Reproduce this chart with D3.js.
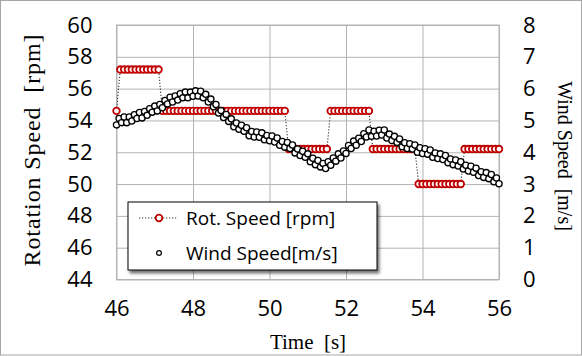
<!DOCTYPE html>
<html>
<head>
<meta charset="utf-8">
<script src="https://cdn.jsdelivr.net/npm/d3@7"></script>
<style>
  html, body { margin: 0; padding: 0; background: #fff; }
  svg { display: block; }
</style>
</head>
<body>
<svg id="chart" width="582" height="356"></svg>
<script>
// time axis start [s]; rotation sampled every 0.1 s, wind 15 times per second
const timeStart = 46;
const rotStep = 0.1;
const windRate = 15;
// rotation speed [rpm] (left axis)
const rotSpeed = [
  54.6,
  57.2, 57.2, 57.2, 57.2, 57.2, 57.2, 57.2, 57.2, 57.2, 57.2, 57.2,
  54.6, 54.6, 54.6, 54.6, 54.6, 54.6, 54.6, 54.6, 54.6, 54.6, 54.6,
  54.6, 54.6, 54.6, 54.6, 54.6, 54.6, 54.6, 54.6, 54.6, 54.6, 54.6,
  54.6, 54.6, 54.6, 54.6, 54.6, 54.6, 54.6, 54.6, 54.6, 54.6, 54.6,
  52.2, 52.2, 52.2, 52.2, 52.2, 52.2, 52.2, 52.2, 52.2, 52.2, 52.2,
  54.6, 54.6, 54.6, 54.6, 54.6, 54.6, 54.6, 54.6, 54.6, 54.6, 54.6,
  52.2, 52.2, 52.2, 52.2, 52.2, 52.2, 52.2, 52.2, 52.2, 52.2, 52.2, 52.2,
  50.0, 50.0, 50.0, 50.0, 50.0, 50.0, 50.0, 50.0, 50.0, 50.0, 50.0, 50.0,
  52.2, 52.2, 52.2, 52.2, 52.2, 52.2, 52.2, 52.2, 52.2, 52.2
];
// wind speed [m/s] (right axis)
const windSpeed = [
  4.86, 5.06, 4.93, 5.11, 4.93, 5.11, 4.98, 5.18, 5.06, 5.25,
  5.08, 5.28, 5.16, 5.37, 5.26, 5.45, 5.30, 5.50, 5.40, 5.63,
  5.52, 5.73, 5.58, 5.77, 5.64, 5.84, 5.71, 5.89, 5.71, 5.89,
  5.76, 5.93, 5.77, 5.92, 5.71, 5.82, 5.58, 5.67, 5.43, 5.50,
  5.23, 5.31, 5.09, 5.19, 4.97, 5.05, 4.80, 4.92, 4.72, 4.85,
  4.66, 4.77, 4.52, 4.65, 4.48, 4.64, 4.47, 4.61, 4.39, 4.53,
  4.36, 4.51, 4.32, 4.45, 4.22, 4.34, 4.16, 4.31, 4.12, 4.23,
  3.98, 4.10, 3.90, 4.03, 3.84, 3.95, 3.70, 3.81, 3.61, 3.74,
  3.54, 3.65, 3.49, 3.70, 3.59, 3.82, 3.72, 3.95, 3.82, 4.04,
  3.96, 4.21, 4.12, 4.35, 4.22, 4.44, 4.34, 4.58, 4.48, 4.70,
  4.50, 4.66, 4.51, 4.69, 4.54, 4.70, 4.45, 4.57, 4.37, 4.50,
  4.31, 4.42, 4.17, 4.30, 4.12, 4.27, 4.10, 4.23, 4.00, 4.14,
  3.96, 4.11, 3.94, 4.07, 3.84, 3.98, 3.80, 3.95, 3.77, 3.90,
  3.67, 3.79, 3.61, 3.76, 3.57, 3.70, 3.47, 3.59, 3.41, 3.56,
  3.37, 3.50, 3.27, 3.39, 3.21, 3.36, 3.17, 3.30, 3.07, 3.19,
  3.01
];
// tick labels
const timeTicks = [46, 48, 50, 52, 54, 56];
const rpmTicks = [44, 46, 48, 50, 52, 54, 56, 58, 60];
const windTicks = [0, 1, 2, 3, 4, 5, 6, 7, 8];
const legendLabels = ["Rot. Speed [rpm]", "Wind Speed[m/s]"];

const svg = d3.select("#chart");
const W = 582, H = 356;
const margin = { top: 25, right: 83, bottom: 76.5, left: 116.5 };
const width = W - margin.left - margin.right;
const height = H - margin.top - margin.bottom;

const sansFont = "'Open Sans', 'Liberation Sans', sans-serif";
const serifFont = "'Liberation Serif', 'DejaVu Serif', serif";

// outer border
svg.append("rect")
  .attr("x", 0.5).attr("y", 0.5)
  .attr("width", W - 1).attr("height", H - 1.5)
  .attr("fill", "#fff").attr("stroke", "#a6a6a6");

const g = svg.append("g").attr("transform", `translate(${margin.left},${margin.top})`);

const x = d3.scaleLinear().domain([46, 56]).range([0, width]);
const yL = d3.scaleLinear().domain([44, 60]).range([height, 0]);
const yR = d3.scaleLinear().domain([0, 8]).range([height, 0]);

const rotRows = rotSpeed.map((r, i) => ({ t: timeStart + i * rotStep, v: r }));
const windRows = windSpeed.map((w, i) => ({ t: timeStart + i / windRate, v: w }));

//
// left axis, with horizontal grid lines
const gl = g.append("g")
  .call(d3.axisLeft(yL).tickValues(rpmTicks).tickSize(-width).tickPadding(24));
gl.select(".domain").remove();
gl.selectAll("line").attr("stroke", "#b3b3b3");
gl.selectAll("text").attr("font-family", sansFont).attr("font-size", 22).attr("fill", "#000");

//
// bottom axis, with vertical grid lines
const gb = g.append("g")
  .attr("transform", `translate(0,${height})`)
  .call(d3.axisBottom(x).tickValues(timeTicks).tickSize(-height).tickPadding(21));
gb.select(".domain").remove();
gb.selectAll("line").attr("stroke", "#b3b3b3");
gb.selectAll("text").attr("font-family", sansFont).attr("font-size", 22).attr("fill", "#000");

//
// right axis, labels only
const gr = g.append("g")
  .attr("transform", `translate(${width},0)`)
  .call(d3.axisRight(yR).tickValues(windTicks).tickSize(0).tickPadding(24));
gr.select(".domain").remove();
gr.selectAll("text").attr("font-family", sansFont).attr("font-size", 22).attr("fill", "#000");

// plot frame
g.append("rect")
  .attr("width", width).attr("height", height)
  .attr("fill", "none").attr("stroke", "#b3b3b3");

//
// rotation speed: dotted connector + hollow red markers
const rotLine = d3.line().x(d => x(d.t)).y(d => yL(d.v));
g.append("path")
  .datum(rotRows)
  .attr("d", rotLine)
  .attr("fill", "none")
  .attr("stroke", "#333")
  .attr("stroke-width", 1.1)
  .attr("stroke-dasharray", "1.2,1.8");

g.append("g").selectAll("circle")
  .data(rotRows)
  .enter()
  .append("circle")
  .attr("cx", d => x(d.t))
  .attr("cy", d => yL(d.v))
  .attr("r", 3.3)
  .attr("fill", "#fff")
  .attr("stroke", "#c00000")
  .attr("stroke-width", 1.8);

//
// wind speed: hollow black markers
g.append("g").selectAll("circle")
  .data(windRows)
  .enter()
  .append("circle")
  .attr("cx", d => x(d.t))
  .attr("cy", d => yR(d.v))
  .attr("r", 3.1)
  .attr("fill", "#fff")
  .attr("stroke", "#000")
  .attr("stroke-width", 1.3);

//
// axis titles
svg.append("text")
  .attr("transform", "translate(40,150) rotate(-90)")
  .attr("text-anchor", "middle")
  .attr("font-family", serifFont).attr("font-size", 24)
  .attr("letter-spacing", 0.9)
  .attr("xml:space", "preserve")
  .text("Rotation Speed  [rpm]");

svg.append("text")
  .attr("transform", "translate(558,156) rotate(90)")
  .attr("text-anchor", "middle")
  .attr("font-family", serifFont).attr("font-size", 20)
  .attr("xml:space", "preserve")
  .text("Wind Speed  [m/s]");

svg.append("text")
  .attr("x", 308).attr("y", 349)
  .attr("text-anchor", "middle")
  .attr("font-family", serifFont).attr("font-size", 21)
  .attr("xml:space", "preserve")
  .text("Time  [s]");

//
// legend
const defs = svg.append("defs");
const sh = defs.append("filter").attr("id", "shadow")
  .attr("x", "-10%").attr("y", "-10%").attr("width", "130%").attr("height", "150%");
sh.append("feDropShadow")
  .attr("dx", 2).attr("dy", 3).attr("stdDeviation", 1.6)
  .attr("flood-color", "#000").attr("flood-opacity", 0.55);

const lg = svg.append("g").attr("transform", "translate(128,202)");
lg.append("rect")
  .attr("width", 249).attr("height", 68)
  .attr("fill", "#fff").attr("stroke", "#000").attr("stroke-width", 1)
  .attr("filter", "url(#shadow)");

lg.append("line")
  .attr("x1", 11).attr("x2", 50).attr("y1", 16).attr("y2", 16)
  .attr("stroke", "#333").attr("stroke-width", 1.1).attr("stroke-dasharray", "1.2,1.8");
lg.append("circle")
  .attr("cx", 31).attr("cy", 16).attr("r", 3.3)
  .attr("fill", "#fff").attr("stroke", "#c00000").attr("stroke-width", 1.8);
lg.append("circle")
  .attr("cx", 31).attr("cy", 51).attr("r", 2.4)
  .attr("fill", "#fff").attr("stroke", "#000").attr("stroke-width", 1.2);

lg.selectAll("text.lab")
  .data(legendLabels)
  .enter()
  .append("text")
  .attr("class", "lab")
  .attr("x", 58)
  .attr("y", (d, i) => 23 + i * 35)
  .attr("font-family", sansFont).attr("font-size", 19)
  .text(d => d);
</script>
</body>
</html>
